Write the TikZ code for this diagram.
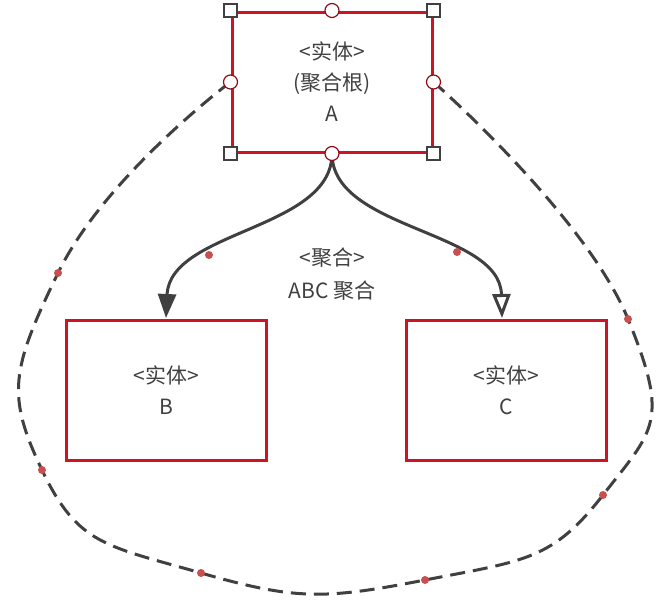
\documentclass[tikz,border=0pt]{standalone}
\usepackage{fontspec}
\setmainfont{Noto Sans CJK SC}
\usetikzlibrary{arrows.meta}
\definecolor{boxred}{RGB}{204,20,36}
\definecolor{linegray}{RGB}{64,64,64}
\definecolor{dotred}{RGB}{200,80,80}
\tikzset{
  entity/.style = {draw=boxred, line width=3pt, minimum width=200pt, minimum height=140pt, align=center, font=\fontsize{21}{31}\selectfont, text=linegray},
  handsq/.style = {draw=linegray, fill=white, line width=1.2pt, minimum size=13pt, inner sep=0pt},
  handci/.style = {draw=boxred!70!black, fill=white, line width=1.2pt, circle, minimum size=14pt, inner sep=0pt},
  reddot/.style = {fill=dotred, circle, minimum size=8pt, inner sep=0pt},
  link/.style = {draw=linegray, line width=3pt}
}
\begin{document}
\begin{tikzpicture}[x=1pt, y=-1pt]
\useasboundingbox (0,0) rectangle (670,606);

\node[entity] (A) at (332,82) {<实体>\\(聚合根)\\A};
\node[entity] (B) at (166,390) {<实体>\\B};
\node[entity] (C) at (506,390) {<实体>\\C};
\node[align=center, font=\fontsize{21}{33}\selectfont, text=linegray] (agg) at (332,274) {<聚合>\\ABC 聚合};

% dashed loop around the aggregate
\draw[link, dash pattern=on 15pt off 8pt] plot[smooth, tension=0.9] coordinates {(A.west) (58,273) (42,470) (201,573) (425,580) (603,495) (628,319) (A.east)};

% references
\draw[link, -{Triangle[length=24pt, width=18pt]}] (A.south) .. controls (332,230) and (170,230) .. (166,318);
\draw[link, -{Triangle[open, length=24pt, width=18pt]}] (A.south) .. controls (332,230) and (500,230) .. (502,318);

% handles
\foreach \c in {north west, north east, south west, south east}
  \node[handsq] at (A.\c) {};
\foreach \c in {north, south, west, east}
  \node[handci] at (A.\c) {};

\foreach \p in {(209,255), (457,252), (58,273), (42,470), (201,573), (425,580), (603,495), (628,319)}
  \node[reddot] at \p {};
\end{tikzpicture}
\end{document}
